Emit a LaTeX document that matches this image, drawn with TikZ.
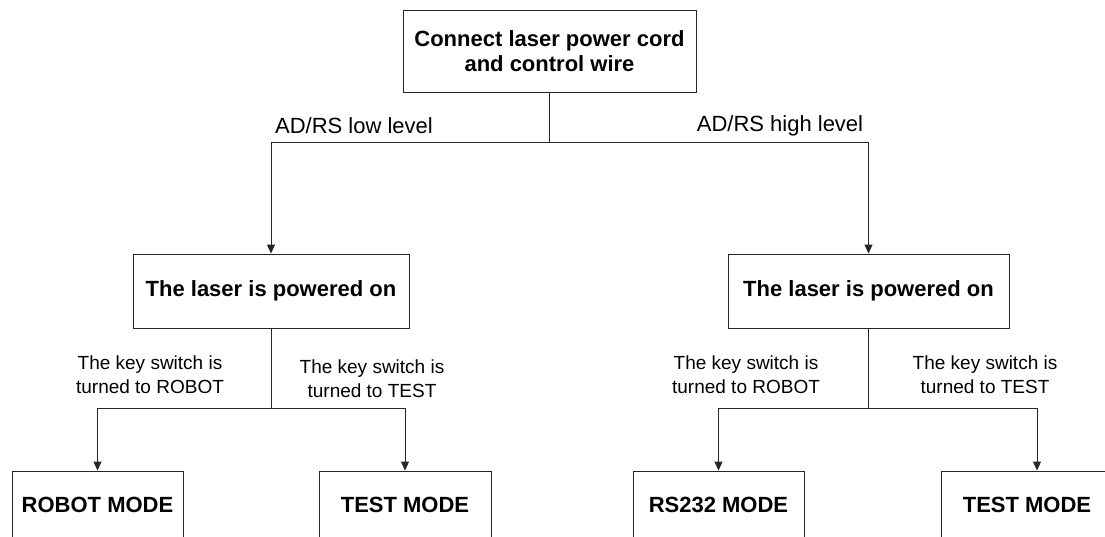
\documentclass[tikz,border=0pt]{standalone}
\usepackage{fontspec}
\setmainfont{Liberation Sans}
\usetikzlibrary{arrows.meta}

\begin{document}
\begin{tikzpicture}[x=1pt, y=-1pt, line width=0.9pt, draw=black!85,
    box/.style={draw, inner sep=0pt, align=center, font=\fontsize{22}{25}\selectfont\bfseries},
    lbl/.style={inner sep=0pt, align=center, font=\fontsize{19}{24}\selectfont},
    arr/.style={-{Triangle[length=9pt,width=8pt]}}]
    \clip (0,0) rectangle (1105,536);
    % boxes
    \node[box, minimum width=293pt, minimum height=82pt] (conn) at (549.5,51) {Connect laser power cord\\and control wire};
    \node[box, minimum width=276pt, minimum height=74pt] (onL) at (271,291) {The laser is powered on};
    \node[box, minimum width=281pt, minimum height=74pt] (onR) at (868.5,291) {The laser is powered on};
    \node[box, minimum width=171pt, minimum height=68pt] (robot) at (97.5,505) {ROBOT MODE};
    \node[box, minimum width=172pt, minimum height=68pt] (testL) at (405,505) {TEST MODE};
    \node[box, minimum width=171pt, minimum height=68pt] (rs232) at (718.5,505) {RS232 MODE};
    \node[box, minimum width=172pt, minimum height=68pt] (testR) at (1027,505) {TEST MODE};
    % branch points
    \coordinate (splitTop) at (549.5,142);
    \coordinate (splitL) at (271,408);
    \coordinate (splitR) at (868.5,408);
    % connectors
    \draw (conn) -- (splitTop);
    \draw[arr] (splitTop) -| (onL);
    \draw[arr] (splitTop) -| (onR);
    \draw (onL) -- (splitL);
    \draw[arr] (splitL) -| (robot);
    \draw[arr] (splitL) -| (testL);
    \draw (onR) -- (splitR);
    \draw[arr] (splitR) -| (rs232);
    \draw[arr] (splitR) -| ([xshift=10pt]testR.north);
    % labels
    \node[lbl, font=\fontsize{22}{25}\selectfont] (low) at (354,126) {AD/RS low level};
    \node[lbl, font=\fontsize{22}{25}\selectfont] (high) at (780,126) {AD/RS high level};
    \node[lbl] (keyRobotL) at (150,375) {The key switch is\\turned to ROBOT};
    \node[lbl] (keyTestL) at (372,379) {The key switch is\\turned to TEST};
    \node[lbl] (keyRobotR) at (746,375) {The key switch is\\turned to ROBOT};
    \node[lbl] (keyTestR) at (985,375) {The key switch is\\turned to TEST};
\end{tikzpicture}
\end{document}
